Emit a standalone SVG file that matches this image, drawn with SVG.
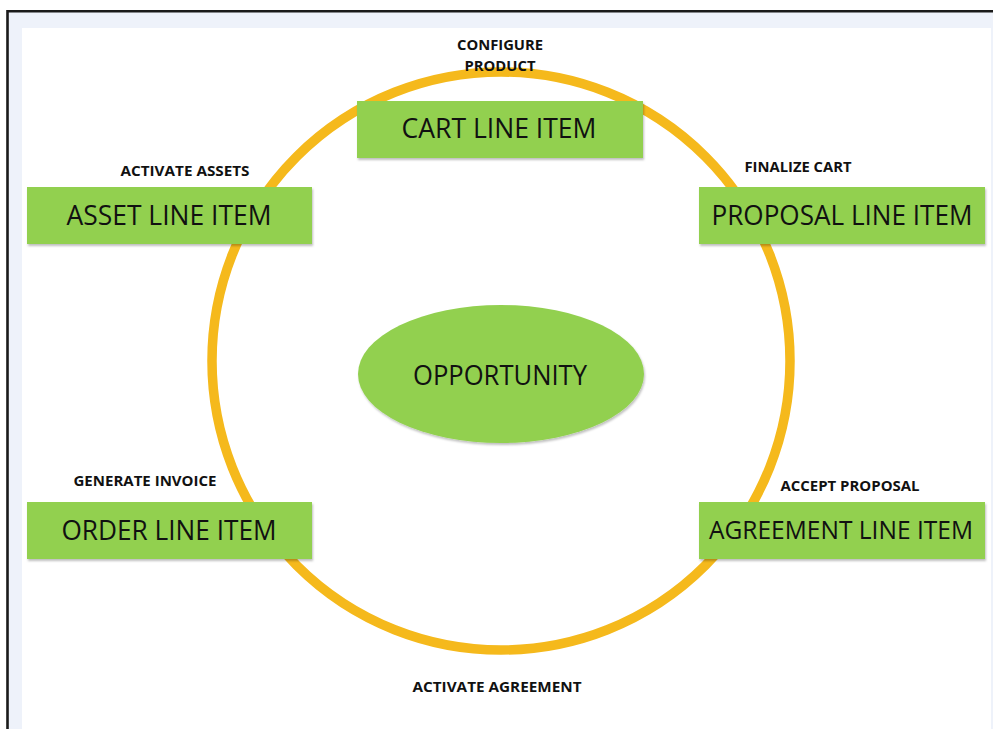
<svg xmlns="http://www.w3.org/2000/svg" width="993" height="729" viewBox="0 0 993 729">
<defs>
<filter id="sh" x="-5%" y="-10%" width="110%" height="125%">
<feDropShadow dx="1" dy="2" stdDeviation="1.2" flood-color="#000" flood-opacity="0.25"/>
</filter>
<style>
.box{fill:#92D050;filter:url(#sh);}
.nt{font-family:"Open Sans","Noto Sans",sans-serif;font-size:27px;fill:#111;text-anchor:middle;}
.lb{font-family:"Open Sans","Noto Sans",sans-serif;font-size:14px;font-weight:bold;fill:#111;text-anchor:middle;}
</style>
</defs>
<rect x="0" y="0" width="993" height="729" fill="#ffffff"/>
<rect x="7" y="11" width="986" height="718" fill="#EEF2FA"/>
<path d="M7.5 729 V11.2 H993" fill="none" stroke="#1a1a1a" stroke-width="2.6"/>
<rect x="22" y="28" width="969" height="701" fill="#ffffff"/>
<g id="connectors">
<circle cx="501" cy="361" r="289" fill="none" stroke="#F5B91C" stroke-width="9.5"/>
</g>
<g id="opportunity">
<ellipse cx="501" cy="374" rx="143" ry="69" fill="#92D050" filter="url(#sh)"/>
<text class="nt" x="500" y="385" textLength="174" lengthAdjust="spacingAndGlyphs">OPPORTUNITY</text>
</g>
<g id="cart">
<rect class="box" x="357" y="101" width="286" height="57"/>
<text class="nt" x="499" y="138" textLength="195" lengthAdjust="spacingAndGlyphs">CART LINE ITEM</text>
<text class="lb" x="500" y="50" textLength="86" lengthAdjust="spacingAndGlyphs">CONFIGURE</text>
<text class="lb" x="500" y="71" textLength="71" lengthAdjust="spacingAndGlyphs">PRODUCT</text>
</g>
<g id="proposal">
<rect class="box" x="699" y="187" width="286" height="57"/>
<text class="nt" x="842" y="225" textLength="261" lengthAdjust="spacingAndGlyphs">PROPOSAL LINE ITEM</text>
<text class="lb" x="798" y="172" textLength="107" lengthAdjust="spacingAndGlyphs">FINALIZE CART</text>
</g>
<g id="agreement">
<rect class="box" x="699" y="502" width="286" height="57"/>
<text class="nt" x="841" y="538.5" style="font-size:25.5px" textLength="264" lengthAdjust="spacingAndGlyphs">AGREEMENT LINE ITEM</text>
<text class="lb" x="850" y="491" textLength="139" lengthAdjust="spacingAndGlyphs">ACCEPT PROPOSAL</text>
</g>
<g id="order">
<rect class="box" x="27" y="502" width="285" height="57"/>
<text class="nt" x="169" y="540" textLength="215" lengthAdjust="spacingAndGlyphs">ORDER LINE ITEM</text>
<text class="lb" x="145" y="486" textLength="143" lengthAdjust="spacingAndGlyphs">GENERATE INVOICE</text>
</g>
<g id="asset">
<rect class="box" x="27" y="187" width="285" height="57"/>
<text class="nt" x="169" y="225" textLength="205" lengthAdjust="spacingAndGlyphs">ASSET LINE ITEM</text>
<text class="lb" x="185" y="176" textLength="129" lengthAdjust="spacingAndGlyphs">ACTIVATE ASSETS</text>
</g>
<g id="activate-agreement">
<text class="lb" x="497" y="692" textLength="169" lengthAdjust="spacingAndGlyphs">ACTIVATE AGREEMENT</text>
</g>
</svg>
